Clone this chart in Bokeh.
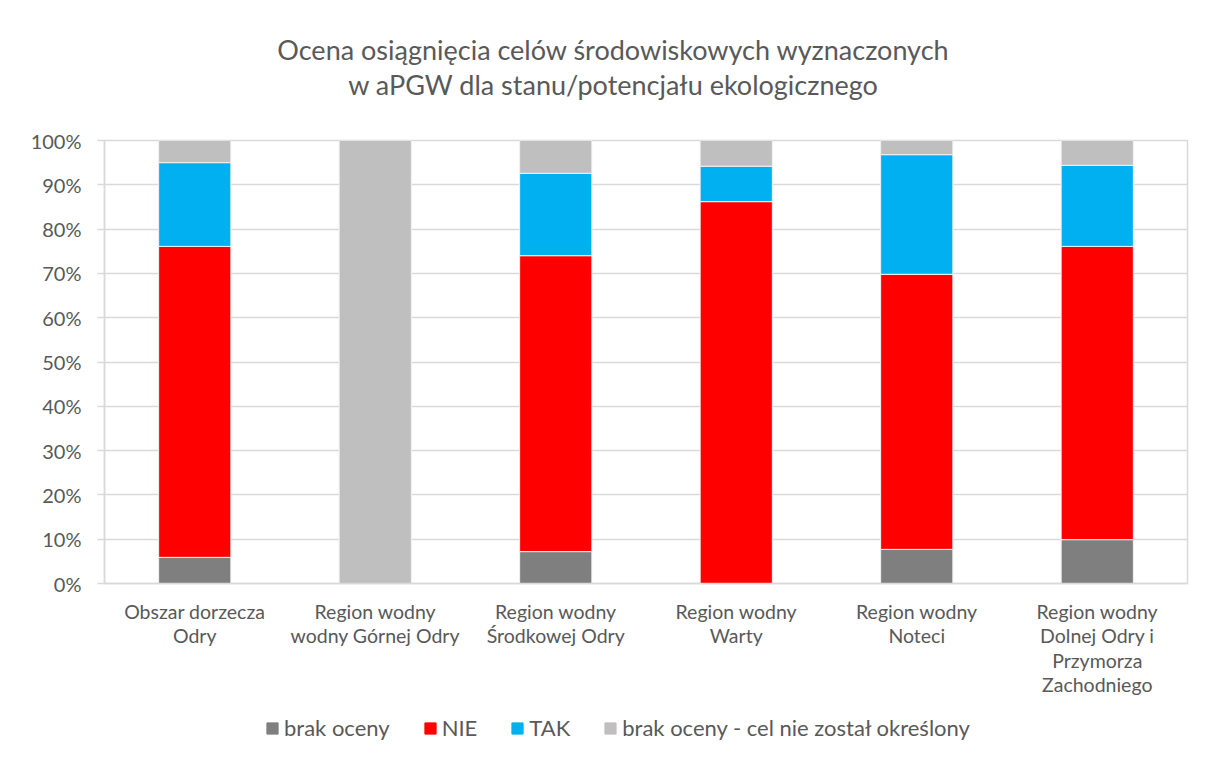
from bokeh.plotting import figure
from bokeh.models import ColumnDataSource, FactorRange, Label, NumeralTickFormatter, FixedTicker, Range1d
from bokeh.layouts import column
from bokeh.embed import file_html
from bokeh.resources import INLINE

categories = [
    "Obszar dorzecza\nOdry",
    "Region wodny\nwodny Górnej Odry",
    "Region wodny\nŚrodkowej Odry",
    "Region wodny\nWarty",
    "Region wodny\nNoteci",
    "Region wodny\nDolnej Odry i\nPrzymorza\nZachodniego",
]
series_names = ["brak oceny", "NIE", "TAK", "brak oceny - cel nie został określony"]
brak_oceny = [0.059, 0.0, 0.072, 0.0, 0.077, 0.099]
nie = [0.702, 0.0, 0.668, 0.862, 0.621, 0.662]
tak = [0.189, 0.0, 0.186, 0.080, 0.270, 0.183]
brak_celu = [0.050, 1.0, 0.074, 0.058, 0.032, 0.056]
y_ticks = [0, 0.1, 0.2, 0.3, 0.4, 0.5, 0.6, 0.7, 0.8, 0.9, 1.0]
title_lines = ["Ocena osiągnięcia celów środowiskowych wyznaczonych",
               "w aPGW dla stanu/potencjału ekologicznego"]

colors = ["#7F7F7F", "#FF0000", "#00B0F0", "#BFBFBF"]
FONT = "Lato"
TXT = "#595959"
GRID = "#D9D9D9"
W = 1197

keys = ["s0", "s1", "s2", "s3"]
source = ColumnDataSource(dict(cat=categories, s0=brak_oceny, s1=nie, s2=tak, s3=brak_celu))
x_range = FactorRange(*categories, range_padding=0)


def strip(h):
    f = figure(width=W, height=h, output_backend="svg", toolbar_location=None,
               x_range=x_range, y_range=Range1d(2, 3),
               min_border_top=0, min_border_bottom=0, min_border_left=104, min_border_right=10,
               x_axis_location=None, y_axis_location=None)
    f.grid.visible = False
    f.outline_line_color = None
    return f


# ---- title strip (frame aligned with chart frame: x measured from plot-area left) ----
pt = strip(120)
for t, y in zip(title_lines, [71, 36]):
    pt.add_layout(Label(x=509, y=y, x_units="screen", y_units="screen", text=t,
                        text_align="center", text_baseline="middle", text_font=FONT,
                        text_font_size="27px", text_color=TXT))

# ---- main chart ----
p = figure(x_range=x_range, y_range=(0, 1),
           width=W, height=585, output_backend="svg", toolbar_location=None,
           min_border_left=104, min_border_right=10, min_border_top=20, min_border_bottom=122)

p.vbar_stack(keys, x="cat", width=0.4, color=colors, line_color="#F2F2F2", line_width=1,
             source=source)

p.outline_line_color = GRID
p.outline_line_width = 1.5
p.xgrid.grid_line_color = None
p.ygrid.grid_line_color = GRID
p.ygrid.grid_line_width = 1.5

p.yaxis.ticker = FixedTicker(ticks=y_ticks)
p.yaxis.formatter = NumeralTickFormatter(format="0%")
p.yaxis.axis_line_color = GRID
p.yaxis.axis_line_width = 1.5
p.yaxis.major_tick_line_color = GRID
p.yaxis.major_tick_line_width = 1.5
p.yaxis.major_tick_out = 7
p.yaxis.major_tick_in = 0
p.yaxis.minor_tick_line_color = None
p.yaxis.major_label_standoff = 16
p.yaxis.major_label_text_font = FONT
p.yaxis.major_label_text_font_size = "20px"
p.yaxis.major_label_text_color = TXT

p.xaxis.axis_line_color = GRID
p.xaxis.axis_line_width = 1.5
p.xaxis.major_tick_line_color = None
p.xaxis.minor_tick_line_color = None
p.xaxis.major_label_standoff = 10
p.xaxis.major_label_text_font = FONT
p.xaxis.major_label_text_font_size = "19.5px"
p.xaxis.major_label_text_color = TXT
p.xaxis.major_label_text_line_height = 1.07

# ---- legend strip (same stacked bars, y range outside the data so only the legend shows) ----
pl = strip(45)
pl.vbar_stack(keys, x="cat", width=0.4, color=colors, source=source, legend_label=series_names)
lg = pl.legend[0]
lg.orientation = "horizontal"
lg.location = (161, 9)
lg.padding = 0
lg.margin = 0
lg.spacing = 33
lg.label_standoff = 5
lg.glyph_width = 14
lg.glyph_height = 14
lg.border_line_color = None
lg.background_fill_alpha = 0
lg.label_text_font = FONT
lg.label_text_font_size = "22px"
lg.label_text_color = TXT

layout = column(pt, p, pl, spacing=0)
open("out.html", "w").write(file_html(layout, INLINE))
